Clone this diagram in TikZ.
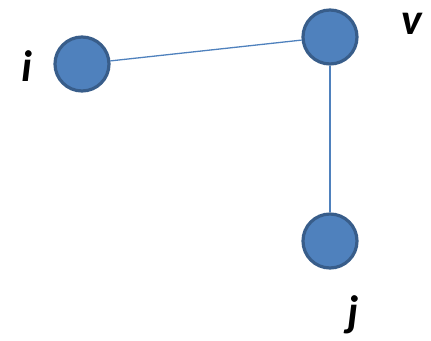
\documentclass[tikz,border=0pt]{standalone}
\usepackage{fontspec}
\setmainfont{Carlito}
\begin{document}
\begin{tikzpicture}[x=1pt,y=-1pt,
  vert/.style={circle,fill=vfill,draw=vborder,line width=3.2pt,minimum size=54pt,inner sep=0pt},
  lbl/.style={font=\fontsize{44}{50}\selectfont\bfseries\itshape,inner sep=0pt,anchor=center},
  edge/.style={draw=vfill,line width=1.3pt}]
\definecolor{vfill}{HTML}{4F81BD}
\definecolor{vborder}{HTML}{385D8A}
\useasboundingbox (0,0) rectangle (431,340);
\node[vert] (i) at (82,64) {};
\node[vert] (v) at (330,37) {};
\node[vert] (j) at (330,241) {};
\draw[edge] (i) -- (v);
\draw[edge] (v) -- (j);
\node[lbl] (li) at (27,66) {i};
\node[lbl] (lv) at (412,24) {v};
\node[lbl] (lj) at (353,315) {j};
\end{tikzpicture}
\end{document}
